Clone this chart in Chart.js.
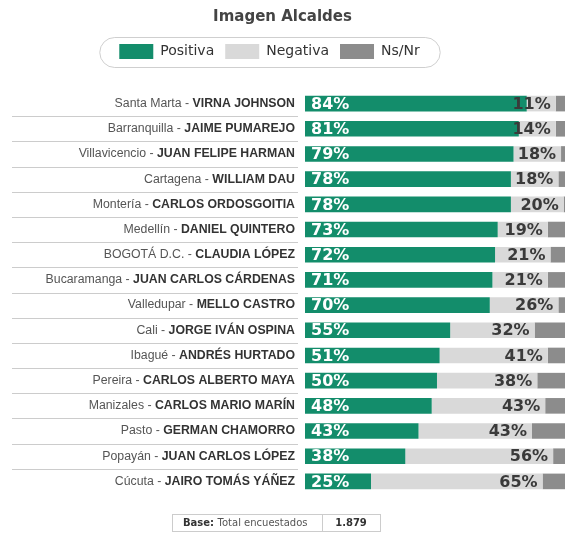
<!DOCTYPE html>
<html lang="es">
<head>
<meta charset="UTF-8">
<title>Imagen Alcaldes</title>
<script src="https://cdn.jsdelivr.net/npm/chart.js@4/dist/chart.umd.min.js"></script>
<style>
  * { box-sizing: border-box; margin: 0; padding: 0; }
  body { background: #ffffff; }
  .wrap { position: relative; width: 565px; height: 533px; }
</style>
</head>
<body>
<div class="wrap"><canvas id="chart"></canvas></div>
<script>
const cities = ['Santa Marta', 'Barranquilla', 'Villavicencio', 'Cartagena', 'Montería', 'Medellín',
  'BOGOTÁ D.C.', 'Bucaramanga', 'Valledupar', 'Cali', 'Ibagué', 'Pereira', 'Manizales', 'Pasto', 'Popayán', 'Cúcuta']
const mayors = ['VIRNA JOHNSON', 'JAIME PUMAREJO', 'JUAN FELIPE HARMAN', 'WILLIAM DAU', 'CARLOS ORDOSGOITIA',
  'DANIEL QUINTERO', 'CLAUDIA LÓPEZ', 'JUAN CARLOS CÁRDENAS', 'MELLO CASTRO', 'JORGE IVÁN OSPINA',
  'ANDRÉS HURTADO', 'CARLOS ALBERTO MAYA', 'CARLOS MARIO MARÍN', 'GERMAN CHAMORRO', 'JUAN CARLOS LÓPEZ', 'JAIRO TOMÁS YÁÑEZ']
const positiva = [84, 81, 79, 78, 78, 73, 72, 71, 70, 55, 51, 50, 48, 43, 38, 25]
const negativa = [11, 14, 18, 18, 20, 19, 21, 21, 26, 32, 41, 38, 43, 43, 56, 65]
const nsnr = [5, 5, 3, 4, 2, 8, 7, 8, 4, 13, 8, 12, 9, 14, 6, 10]
const baseLabel = 'Total encuestados'
const baseValue = '1.879'

const GREEN = '#138d6b'
const LIGHT = '#d9d9d9'
const DARK = '#8c8c8c'
const GOTHIC = '"DejaVu Sans", sans-serif'
const ARIAL = '"Liberation Sans", Arial, sans-serif'
const LEGEND_SHIFT = 13

const decor = {
  id: 'decor',
  afterLayout(chart) {
    // legend pill sits a bit left of centre in the original
    chart.legend.left -= LEGEND_SHIFT
    chart.legend.right -= LEGEND_SHIFT
  },
  beforeDraw(chart) {
    const { ctx, legend } = chart
    const hb = legend.legendHitBoxes
    if (!hb.length) return
    const last = hb[hb.length - 1]
    const x0 = hb[0].left - 20, x1 = last.left + last.width + 20
    const y0 = hb[0].top - 7, h = 30
    ctx.save()
    ctx.strokeStyle = '#cfcfcf'
    ctx.lineWidth = 1
    ctx.beginPath()
    ctx.roundRect(x0 + 0.5, y0 + 0.5, x1 - x0, h, 15)
    ctx.stroke()
    ctx.restore()
  },
  afterDraw(chart) {
    const { ctx, scales: { x, y } } = chart
    ctx.save()
    // row separators
    ctx.strokeStyle = '#cccccc'
    ctx.lineWidth = 1
    for (let i = 0; i < cities.length - 1; i++) {
      const yy = Math.round((y.getPixelForValue(i) + y.getPixelForValue(i + 1)) / 2) + 0.5
      ctx.beginPath(); ctx.moveTo(12, yy); ctx.lineTo(298, yy); ctx.stroke()
    }
    // row labels
    ctx.textBaseline = 'middle'
    ctx.textAlign = 'right'
    cities.forEach((c, i) => {
      const yy = y.getPixelForValue(i)
      ctx.font = 'bold 12.3px ' + ARIAL
      ctx.fillStyle = '#333333'
      ctx.fillText(mayors[i], 295, yy)
      const w = ctx.measureText(mayors[i]).width
      ctx.font = '12.3px ' + ARIAL
      ctx.fillStyle = '#555555'
      ctx.fillText(c + ' - ', 295 - w, yy)
    })
    // value labels
    ctx.font = 'bold 16px ' + GOTHIC
    positiva.forEach((p, i) => {
      const yy = y.getPixelForValue(i) + 1
      ctx.textAlign = 'left'
      ctx.fillStyle = '#ffffff'
      ctx.fillText(p + '%', x.getPixelForValue(0) + 6, yy)
      ctx.textAlign = 'right'
      ctx.fillStyle = '#3a3a3a'
      ctx.fillText(negativa[i] + '%', x.getPixelForValue(p + negativa[i]) - 5, yy)
    })
    // base box
    const bx = 172, by = 514, bw = 208, bh = 17, div = 322
    ctx.strokeStyle = '#cccccc'
    ctx.strokeRect(bx + 0.5, by + 0.5, bw, bh)
    ctx.beginPath(); ctx.moveTo(div + 0.5, by); ctx.lineTo(div + 0.5, by + bh); ctx.stroke()
    ctx.textAlign = 'left'
    ctx.font = 'bold 10px ' + GOTHIC
    ctx.fillStyle = '#333333'
    ctx.fillText('Base:', 183, by + bh / 2 + 1)
    const bw1 = ctx.measureText('Base: ').width
    ctx.font = '10px ' + GOTHIC
    ctx.fillStyle = '#555555'
    ctx.fillText(baseLabel, 183 + bw1, by + bh / 2 + 1)
    ctx.font = 'bold 10px ' + GOTHIC
    ctx.fillStyle = '#333333'
    ctx.textAlign = 'center'
    ctx.fillText(baseValue, (div + bx + bw) / 2, by + bh / 2 + 1)
    ctx.restore()
  }
}

const bar = { categoryPercentage: 1, barPercentage: 0.62, borderWidth: 0 }

new Chart(document.getElementById('chart'), {
  type: 'bar',
  data: {
    labels: cities,
    datasets: [
      { label: 'Positiva', data: positiva, backgroundColor: GREEN, ...bar },
      { label: 'Negativa', data: negativa, backgroundColor: LIGHT, ...bar },
      { label: 'Ns/Nr', data: nsnr, backgroundColor: DARK, ...bar }
    ]
  },
  options: {
    indexAxis: 'y',
    responsive: true,
    maintainAspectRatio: false,
    animation: false,
    layout: { padding: { left: 0, right: 0, top: 0, bottom: 39 } },
    plugins: {
      title: {
        display: true, text: 'Imagen Alcaldes', color: '#444444',
        font: { family: GOTHIC, size: 15, weight: 'bold' },
        padding: { top: 8, bottom: 7 }
      },
      legend: {
        display: true,
        labels: { boxWidth: 34, boxHeight: 15, padding: 11, color: '#333333', font: { family: GOTHIC, size: 14 } }
      },
      tooltip: { enabled: false }
    },
    scales: {
      x: {
        stacked: true, min: 0, max: 98.5, position: 'top',
        ticks: { display: false }, grid: { display: false, drawTicks: false }, border: { display: false },
        afterFit: s => { s.height = 22 }
      },
      y: {
        stacked: true,
        ticks: { display: false }, grid: { display: false, drawTicks: false }, border: { display: false },
        afterFit: s => { s.width = 305 }
      }
    }
  },
  plugins: [decor]
})
</script>
</body>
</html>
